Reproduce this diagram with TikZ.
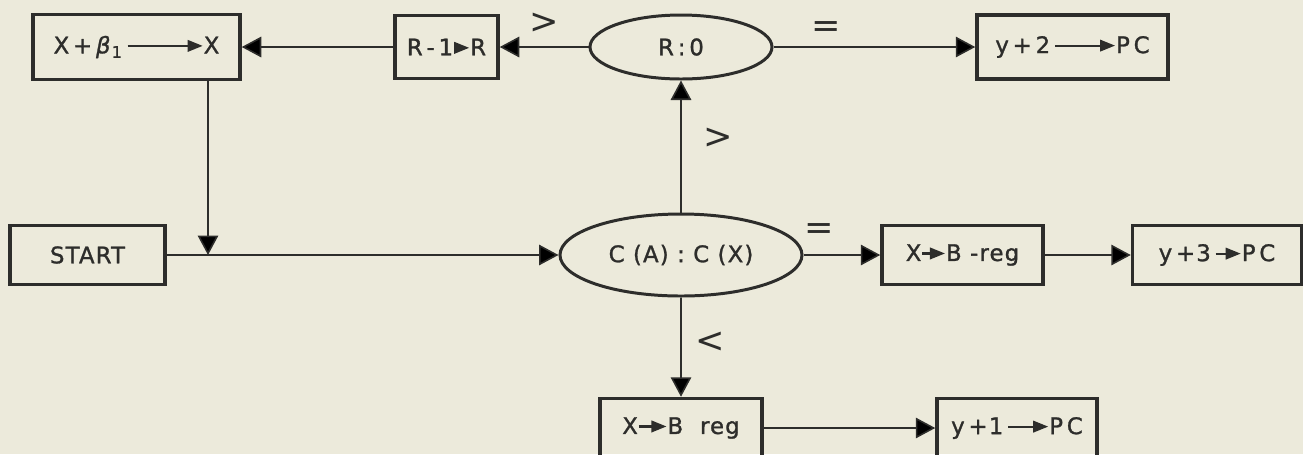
\documentclass[tikz,border=0pt]{standalone}
\usepackage{fontspec}
\usetikzlibrary{arrows.meta,positioning,shapes.geometric}
\newfontfamily\lettering{DejaVu Sans}[LetterSpace=5,FakeBold=1.2]
\newfontfamily\relfont{DejaVu Sans}
\definecolor{paper}{RGB}{236,234,219}
\definecolor{ink}{RGB}{45,45,43}
% short arrow inside a box label
\newcommand{\into}[1]{\tikz[baseline=-0.6ex]\draw[ink, line width=1.2pt, -{Triangle[length=3mm,width=2.3mm]}] (0,0) -- (#1,0);}

\begin{document}
\begin{tikzpicture}[
    every node/.style={font=\lettering\fontsize{13}{15}\selectfont, text=ink},
    box/.style={draw=ink, line width=2pt, align=center, inner sep=2pt, minimum height=1.18cm},
    test/.style={draw=ink, line width=1.7pt, ellipse, inner sep=0pt},
    rel/.style={font=\relfont\fontsize{20}{22}\selectfont},
    flow/.style={draw=ink, line width=0.9pt, -{Triangle[length=3.9mm,width=4.1mm]}}
]
\fill[paper] (0,0) rectangle (26.06,-9.08);
\useasboundingbox (0,0) rectangle (26.06,-9.08);

% top row
\node[box, minimum width=4.14cm, minimum height=1.3cm] (sumx) at (2.73,-0.94) {X\,+\,\textit{β}\textsubscript{1}\,\into{1.5}X};
\node[box, minimum width=2.06cm, minimum height=1.26cm] (dec) at (8.93,-0.94) {R\,-\,1\into{0.3}R};
\node[test, minimum width=3.64cm, minimum height=1.28cm] (rtest) at (13.62,-0.94) {R\,:\,0};
\node[box, minimum width=3.82cm, minimum height=1.28cm] (pc2) at (21.45,-0.94) {y\,+\,2\,\into{1.2}P\,C};

% middle row
\node[box, minimum width=3.1cm] (start) at (1.75,-5.1) {START};
\node[test, minimum width=4.84cm, minimum height=1.64cm] (cmp) at (13.62,-5.1) {C (A) : C (X)};
\node[box, minimum width=3.22cm] (breg) at (19.25,-5.1) {X\into{0.45}B -reg};
\node[box, minimum width=3.38cm, right=1.72cm of breg] (pc3) {y\,+3\,\into{0.5}P\,C};

% bottom row
\node[box, minimum width=3.24cm] (bregl) at (13.62,-8.56) {X\into{0.55}B\ \ reg};
\node[box, minimum width=3.2cm] (pc1) at (20.34,-8.56) {y\,+1\,\into{0.8}P\,C};

\coordinate (join) at (4.16,-5.1);

\draw[flow] (start) -- (cmp);
\draw[flow] (sumx.south -| join) -- (join);
\draw[flow] (cmp) -- node[rel, pos=0.56, xshift=0.74cm] (gtup) {>} (rtest);
\draw[flow] (rtest) -- node[rel, midway, yshift=0.48cm] (gtdec) {>} (dec);
\draw[flow] (dec) -- (sumx);
\draw[flow] (rtest) -- node[rel, pos=0.26, yshift=0.34cm] (eqpc) {=} (pc2);
\draw[flow] (cmp) -- node[rel, pos=0.2, yshift=0.46cm] (eqreg) {=} (breg);
\draw[flow] (breg) -- (pc3);
\draw[flow] (cmp) -- node[rel, pos=0.45, xshift=0.58cm] (ltdown) {<} (bregl);
\draw[flow] (bregl) -- (pc1);
\end{tikzpicture}
\end{document}
